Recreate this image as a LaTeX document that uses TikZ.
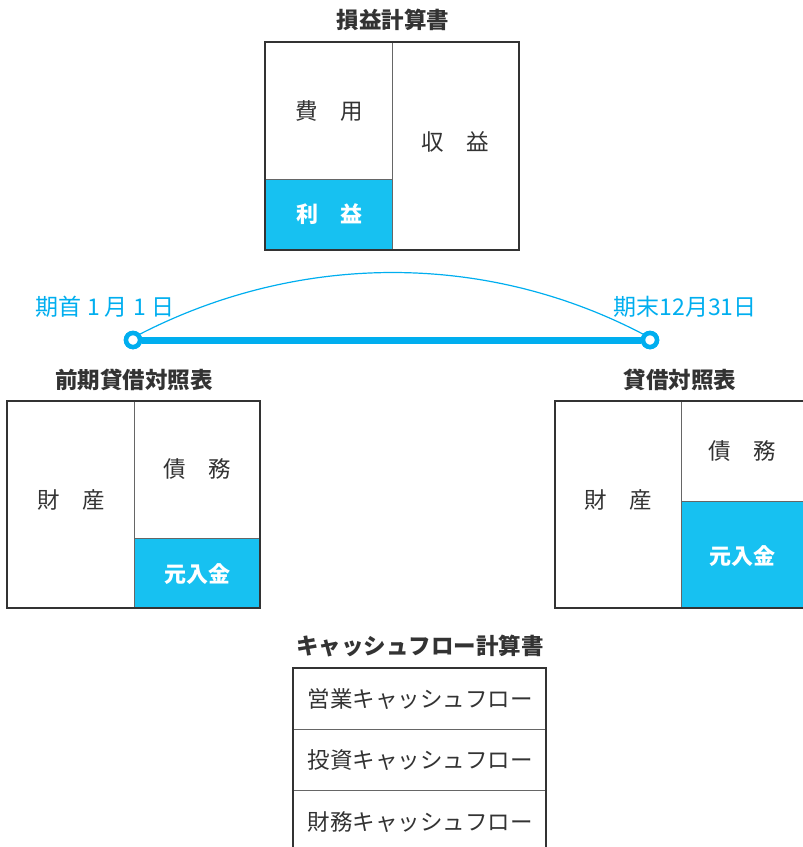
\documentclass[tikz,border=0pt]{standalone}
\usepackage{fontspec}
\setmainfont{Noto Sans CJK JP}
\usetikzlibrary{positioning}
\definecolor{fillblue}{HTML}{17C1F1}
\definecolor{lineblue}{HTML}{00AEEF}
\definecolor{ink}{HTML}{333333}

\begin{document}
\begin{tikzpicture}[x=1pt,y=-1pt,
    frame/.style={draw=ink, line width=2.4pt},
    divider/.style={draw=ink!75, line width=1pt},
    word/.style={font=\fontsize{22.5}{26}\selectfont, text=ink},
    whiteword/.style={font=\fontsize{22}{26}\selectfont\bfseries, text=white},
    heading/.style={font=\fontsize{22.5}{26}\selectfont\bfseries, text=ink},
    datelabel/.style={font=\fontsize{23}{26}\selectfont, text=lineblue},
    dot/.style={circle, draw=lineblue, line width=4.5pt, fill=white,
        minimum size=14pt, inner sep=0pt}]
    \useasboundingbox (0,0) rectangle (803,847);
    \clip (0,0) rectangle (803,847);

    % income statement
    \node[heading] (pltitle) at (393,20) {損益計算書};
    \fill[fillblue] (265,179) rectangle (392,250);
    \draw[divider] (392,42) -- (392,250);
    \draw[divider] (265,179) -- (392,179);
    \draw[frame] (265,42) rectangle (519,250);
    \node[word] (cost) at (329,111) {費　用};
    \node[word] (revenue) at (455,142) {収　益};
    \node[whiteword] (profit) at (329,214) {利　益};

    % period
    \node[dot] (start) at (133,340) {};
    \node[dot] (finish) at (650,340) {};
    \draw[lineblue, line width=7pt] (start) -- (finish);
    \node[dot] at (start) {};
    \node[dot] at (finish) {};
    \draw[lineblue, line width=1.2pt] (start.40) .. controls (300,252) and (486,252) .. (finish.140);
    \node[datelabel] (startdate) at (105,307) {期首 1 月 1 日};
    \node[datelabel] (enddate) at (685,307) {期末12月31日};

    % opening balance sheet
    \node[heading] (opentitle) at (134,380) {前期貸借対照表};
    \fill[fillblue] (134,538) rectangle (260,608);
    \draw[divider] (134,401) -- (134,608);
    \draw[divider] (134,538) -- (260,538);
    \draw[frame] (7,401) rectangle (260,608);
    \node[word] (openasset) at (71,500) {財　産};
    \node[word] (opendebt) at (197,469) {債　務};
    \node[whiteword] (opencapital) at (197,574) {元入金};

    % closing balance sheet
    \node[heading] (closetitle) at (680,380) {貸借対照表};
    \fill[fillblue] (681,501) rectangle (810,608);
    \draw[divider] (681,401) -- (681,608);
    \draw[divider] (681,501) -- (810,501);
    \draw[frame] (555,401) rectangle (810,608);
    \node[word] (closeasset) at (618,500) {財　産};
    \node[word] (closedebt) at (742,451) {債　務};
    \node[whiteword] (closecapital) at (742,556) {元入金};

    % cash flow statement
    \node[heading] (cftitle) at (420,646) {キャッシュフロー計算書};
    \draw[divider] (293,729) -- (546,729);
    \draw[divider] (293,790) -- (546,790);
    \draw[frame] (293,668) rectangle (546,860);
    \node[word] (operating) at (420,699) {営業キャッシュフロー};
    \node[word] (investing) at (420,760) {投資キャッシュフロー};
    \node[word] (financing) at (420,822) {財務キャッシュフロー};
\end{tikzpicture}
\end{document}
